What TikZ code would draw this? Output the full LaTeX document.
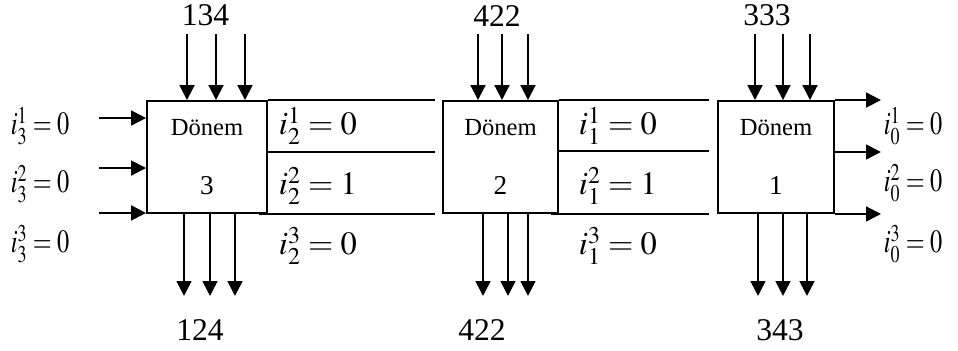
\documentclass[tikz,border=0pt]{standalone}
\usepackage{mathptmx}
\usepackage{fontspec}
\setmainfont{Liberation Serif}
\usetikzlibrary{arrows.meta, positioning}

\begin{document}
\begin{tikzpicture}[x=0.02cm, y=-0.02cm, line width=1.1pt]
    \tikzstyle{donem} = [rectangle, draw, minimum height=2.24cm, inner sep=0pt, align=center, font=\fontsize{14}{33.5}\selectfont]
    \tikzstyle{num} = [inner sep=0pt, font=\fontsize{18}{20}\selectfont]
    \tikzstyle{lbl} = [inner sep=0pt, anchor=base west, font=\fontsize{18.5}{22}\selectfont]
    \tikzstyle{line} = [draw, -{Triangle[length=8.5pt, width=8.5pt]}]
    \tikzstyle{strip} = [draw]

    \useasboundingbox (0,0) rectangle (958,351);

    % periods
    \node [donem, minimum width=2.4cm] (d3) at (207,157) {Dönem\\{\fontsize{15.5}{33.5}\selectfont 3}};
    \node [donem, minimum width=2.3cm] (d2) at (500.5,157) {Dönem\\{\fontsize{15.5}{33.5}\selectfont 2}};
    \node [donem, minimum width=2.32cm] (d1) at (776,157) {Dönem\\{\fontsize{15.5}{33.5}\selectfont 1}};

    % demand above, production below
    \node [num, above=1.46cm of d3, xshift=-0.03cm] (t3) {134};
    \node [num, above=1.46cm of d2, xshift=-0.07cm] (t2) {422};
    \node [num, above=1.46cm of d1, xshift=-0.18cm] (t1) {333};
    \node [num, below=2.1cm of d3, xshift=-0.14cm] (b3) {124};
    \node [num, below=2.1cm of d2, xshift=-0.37cm] (b2) {422};
    \node [num, below=2.1cm of d1, xshift=0.08cm] (b1) {343};

    \foreach \o in {-0.4, 0.18, 0.76}
        \path [line] ([xshift=\o cm, yshift=1.32cm]d3.north) -- ([xshift=\o cm]d3.north);
    \foreach \o in {-0.45, 0.03, 0.55}
        \path [line] ([xshift=\o cm, yshift=1.32cm]d2.north) -- ([xshift=\o cm]d2.north);
    \foreach \o in {-0.42, 0.14, 0.68}
        \path [line] ([xshift=\o cm, yshift=1.32cm]d1.north) -- ([xshift=\o cm]d1.north);
    \foreach \o in {-0.46, 0.06, 0.56}
        \path [line] ([xshift=\o cm]d3.south) -- ([xshift=\o cm, yshift=-1.64cm]d3.south);
    \foreach \o in {-0.35, 0.15, 0.55}
        \path [line] ([xshift=\o cm]d2.south) -- ([xshift=\o cm, yshift=-1.64cm]d2.south);
    \foreach \o in {-0.36, 0.14, 0.62}
        \path [line] ([xshift=\o cm]d1.south) -- ([xshift=\o cm, yshift=-1.64cm]d1.south);

    % inventory in
    \path [line] ([xshift=-0.94cm, yshift=-0.36cm]d3.north west) -- ([yshift=-0.36cm]d3.north west);
    \path [line] ([xshift=-0.94cm, yshift=-1.36cm]d3.north west) -- ([yshift=-1.36cm]d3.north west);
    \path [line] ([xshift=-0.94cm, yshift=0.02cm]d3.south west) -- ([yshift=0.02cm]d3.south west);
    \node [lbl] (l1) at (10,135) {\scalebox{0.75}[1]{$i_3^1=0$}};
    \node [lbl] (l2) at (10,193) {\scalebox{0.75}[1]{$i_3^2=0$}};
    \node [lbl] (l3) at (10,253) {\scalebox{0.75}[1]{$i_3^3=0$}};

    % inventory between periods
    \path [strip] (d3.north east) -- ([xshift=-0.14cm]d2.north west);
    \path [strip] ([yshift=0.1cm]d3.east) -- ([xshift=-0.14cm, yshift=0.1cm]d2.west);
    \path [strip] ([xshift=-0.18cm]d3.south east) -- ([xshift=-0.14cm]d2.south west);
    \node [lbl] (a1) at (278,135) {$i_2^1 = 0$};
    \node [lbl] (a2) at (278,195) {$i_2^2 = 1$};
    \node [lbl] (a3) at (278,255) {$i_2^3 = 0$};

    \path [strip] (d2.north east) -- ([xshift=-0.16cm]d1.north west);
    \path [strip] ([yshift=0.12cm]d2.east) -- ([xshift=-0.16cm, yshift=0.12cm]d1.west);
    \path [strip] ([xshift=-0.16cm]d2.south east) -- ([xshift=-0.16cm]d1.south west);
    \node [lbl] (c1) at (578,135) {$i_1^1 = 0$};
    \node [lbl] (c2) at (578,195) {$i_1^2 = 1$};
    \node [lbl] (c3) at (578,255) {$i_1^3 = 0$};

    % inventory out
    \path [line] (d1.north east) -- ([xshift=0.92cm]d1.north east);
    \path [line] ([yshift=0.1cm]d1.east) -- ([xshift=0.92cm, yshift=0.1cm]d1.east);
    \path [line] (d1.south east) -- ([xshift=0.92cm]d1.south east);
    \node [lbl] (r1) at (883,135) {\scalebox{0.75}[1]{$i_0^1=0$}};
    \node [lbl] (r2) at (883,192) {\scalebox{0.75}[1]{$i_0^2=0$}};
    \node [lbl] (r3) at (883,253) {\scalebox{0.75}[1]{$i_0^3=0$}};
\end{tikzpicture}
\end{document}
